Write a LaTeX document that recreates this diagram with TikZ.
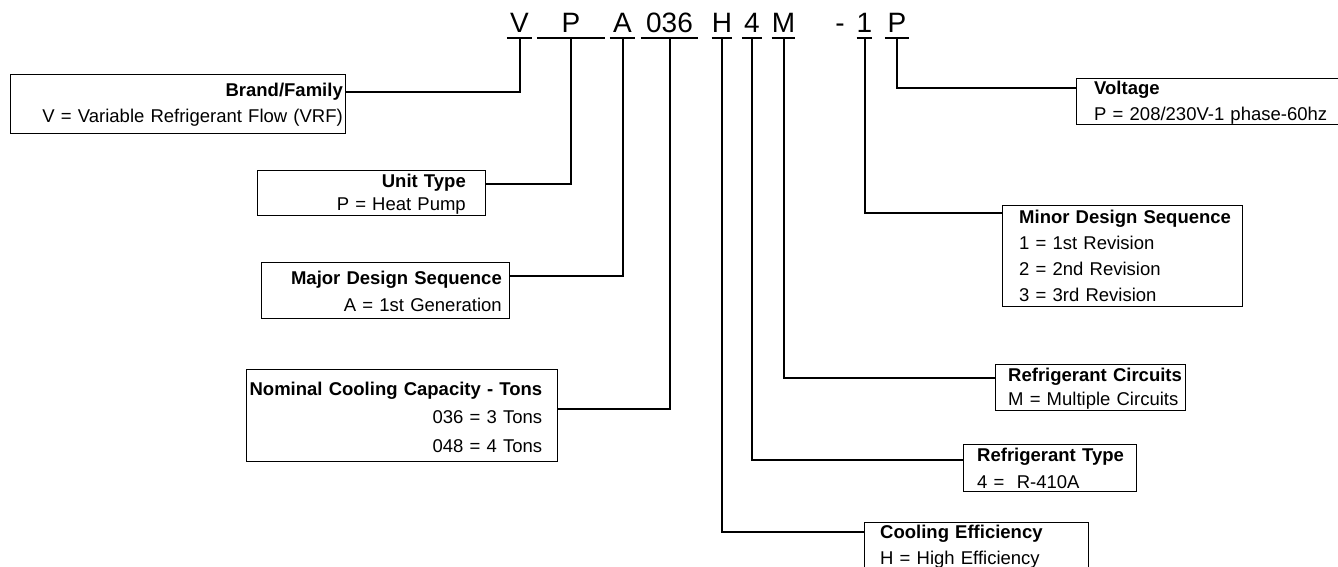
\documentclass[tikz,border=0pt]{standalone}
\usepackage{fontspec}
\setmainfont{Liberation Sans}

\begin{document}
\begin{tikzpicture}[x=1pt,y=-1pt,
  code/.style={font=\fontsize{28}{30}\selectfont, inner sep=0pt, text height=20pt, text depth=5pt, anchor=south},
  box/.style={draw, line width=1.2pt, anchor=north west, inner sep=0pt},
  ltxt/.style={font=\fontsize{18.5}{#1}\selectfont, inner sep=0pt, text width=330pt, align=right, anchor=base east},
  rtxt/.style={font=\fontsize{18.5}{#1}\selectfont, inner sep=0pt, text width=330pt, align=left, anchor=base west},
  link/.style={line width=2pt}]
\useasboundingbox (0,0) rectangle (1338,567);
\clip (0,0) rectangle (1338,567);

% model number
\node[code, minimum width=25] (cV) at (519.5,38) {V};
\node[code, minimum width=68] (cP) at (571,38) {P};
\node[code, minimum width=25] (cA) at (622.5,38) {A};
\node[code, minimum width=57] (c036) at (669.5,38) {036};
\node[code, minimum width=20] (cH) at (722,38) {H};
\node[code, minimum width=20] (c4) at (752,38) {4};
\node[code, minimum width=23] (cM) at (783.5,38) {M};
\node[code] (cdash) at (840,38) {-};
\node[code, minimum width=15] (c1) at (864.5,38) {1};
\node[code, minimum width=24] (cP2) at (897,38) {P};
\foreach \c in {cV,cP,cA,c036,cH,c4,cM,c1,cP2}
  \draw[link] (\c.south west) -- (\c.south east);

% boxes on the left
\node[box, minimum width=335, minimum height=59] (brand) at (10,74) {};
\node[ltxt=26] (brandT) at (343,97) {\textbf{Brand/Family}\\V = Variable Refrigerant Flow (VRF)};
\node[box, minimum width=228, minimum height=45] (unit) at (257,170) {};
\node[ltxt=23] (unitT) at (466,187) {\textbf{Unit Type}\\P = Heat Pump};
\node[box, minimum width=248, minimum height=56] (major) at (261,262) {};
\node[ltxt=27] (majorT) at (502,284) {\textbf{Major Design Sequence}\\A = 1st Generation};
\node[box, minimum width=311, minimum height=92] (nominal) at (246,369) {};
\node[ltxt=28.5, text width=294pt, anchor=base west] (nominalT) at (248,395) {\textbf{Nominal Cooling Capacity - Tons}\\036 = 3 Tons\\048 = 4 Tons};

% boxes on the right
\node[box, minimum width=280, minimum height=46] (voltage) at (1076,78) {};
\node[rtxt=26] (voltageT) at (1094,95) {\textbf{Voltage}\\P = 208/230V-1 phase-60hz};
\node[box, minimum width=240, minimum height=101] (minor) at (1002,205) {};
\node[rtxt=26.3] (minorT) at (1019,223) {\textbf{Minor Design Sequence}\\1 = 1st Revision\\2 = 2nd Revision\\3 = 3rd Revision};
\node[box, minimum width=190, minimum height=46] (circuits) at (995,364) {};
\node[rtxt=24] (circuitsT) at (1008,381) {\textbf{Refrigerant Circuits}\\M = Multiple Circuits};
\node[box, minimum width=173, minimum height=47] (rtype) at (963,444) {};
\node[rtxt=27] (rtypeT) at (977,461) {\textbf{Refrigerant Type}\\4 =\ \ R-410A};
\node[box, minimum width=224, minimum height=60] (cooling) at (864,522) {};
\node[rtxt=26] (coolingT) at (880,538) {\textbf{Cooling Efficiency}\\H = High Efficiency};

% leaders
\draw[link] (cV.south) |- ([yshift=-18pt]brand.north east);
\draw[link] (cP.south) |- ([yshift=-14pt]unit.north east);
\draw[link] (cA.south) |- ([yshift=-14pt]major.north east);
\draw[link] (c036.south) |- ([yshift=-40pt]nominal.north east);
\draw[link] (cH.south) |- ([yshift=-10pt]cooling.north west);
\draw[link] (c4.south) |- ([yshift=-16pt]rtype.north west);
\draw[link] (cM.south) |- ([yshift=-14pt]circuits.north west);
\draw[link] (c1.south) |- ([yshift=-8pt]minor.north west);
\draw[link] (cP2.south) |- ([yshift=-10pt]voltage.north west);
\end{tikzpicture}
\end{document}
